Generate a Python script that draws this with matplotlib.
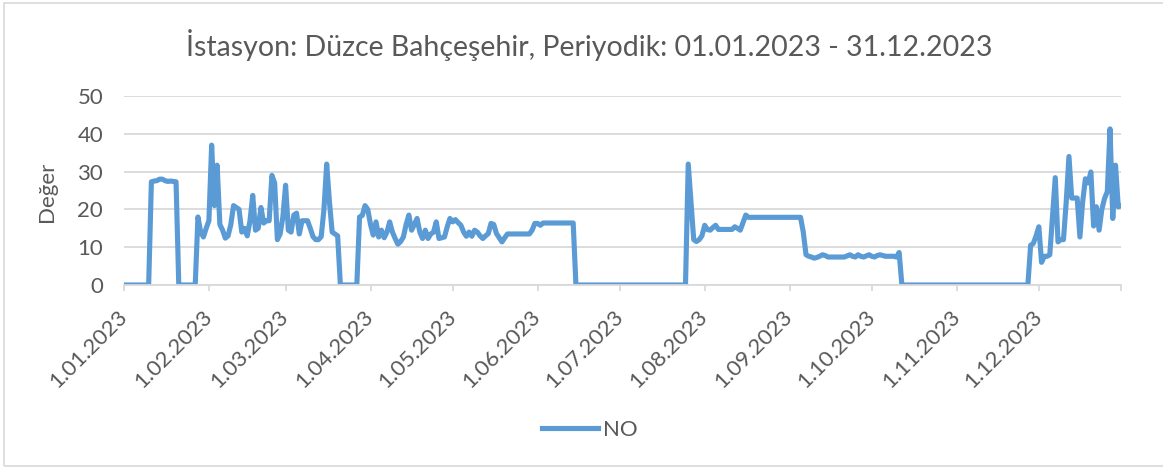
# Import necessary libraries
import numpy as np
import pandas as pd
import matplotlib
matplotlib.use("Agg")
import matplotlib.pyplot as plt
from matplotlib.patches import Rectangle

# Daily NO values, one list per month
jan = [0] * 10 + [27.3, 27.5, 27.6, 28, 28, 27.6, 27.4, 27.5, 27.4, 27.3] + [0] * 7 + [18, 14, 12.7, 15]
feb = [17, 37, 21, 31.7, 16, 14.5, 12.4, 13, 16, 21, 20.5, 20, 14, 15, 13,
       17, 23.7, 14.5, 15, 20.5, 16.4, 17, 17, 29, 27, 12, 13.5, 18]
mar = [26.4, 14.5, 14, 18.5, 19, 13.5, 17, 17, 17, 15, 12.8, 12, 12, 12.8, 20,
       32, 22, 14, 13.5, 13] + [0] * 7 + [18, 18.4, 21, 20]
apr = [16, 13.2, 16.7, 12.7, 14.5, 12.5, 14, 16.7, 14, 12.3, 10.8, 11.5, 12.7, 16, 18.5,
       14.5, 16, 17.6, 14, 12.3, 14.5, 12.3, 13.5, 14, 16.7, 12.3, 12.5, 12.7, 15.4, 17.6]
may = [16.7, 17.3, 16.5, 15.8, 14, 12.9, 14, 12.9, 14.5, 14, 13, 12.3, 13, 13.6, 16.3,
       16, 13.6, 12.5, 11.4, 12.5, 13.5] + [13.5] * 8 + [14.5, 16.3]
jun = [16.3, 15.8, 16.4] + [16.4] * 11 + [0] * 16
jul = [0] * 25 + [32, 22, 12, 11.5, 12, 13]
aug = [15.8, 14.7, 14.5, 15.2, 15.8, 14.7] + [14.7] * 5 + [15.4, 15, 14.5, 16.5, 18.5, 17.9] + [17.9] * 14
sep = [17.9] * 5 + [14, 8, 7.6, 7.4, 7.1, 7.3, 7.6, 8, 7.8, 7.4, 7.4] + [7.4] * 5 + \
      [7.7, 8, 7.6, 7.4, 8, 7.6, 7.4, 7.7, 8]
oct_ = [7.6, 7.4, 7.8, 8, 7.8, 7.6, 7.6, 7.6, 7.6, 7.4, 8.6] + [0] * 20
nov = [0] * 27 + [10.5, 11, 13]
dec = [15.4, 6, 7.6, 7.6, 8, 18, 28.4, 11.4, 12, 12, 22, 34, 23, 23, 23,
       12.7, 22, 28.1, 27, 29.9, 15.6, 20.7, 14.5, 20, 22.9, 24.7, 41.3, 17.6, 31.7, 20.7, 21]

months = [jan, feb, mar, apr, may, jun, jul, aug, sep, oct_, nov, dec]
tick_labels = ["1.01.2023", "1.02.2023", "1.03.2023", "1.04.2023", "1.05.2023", "1.06.2023",
               "1.07.2023", "1.08.2023", "1.09.2023", "1.10.2023", "1.11.2023", "1.12.2023"]
y_ticks = [0, 10, 20, 30, 40, 50]

TEXT = "#595959"
BLUE = "#5B9BD5"
GRID = "#D9D9D9"
W, H = 1163, 469


def main():
    plt.rcParams['font.family'] = ['Lato', 'DejaVu Sans']

    values = np.concatenate([np.array(m, dtype=float) for m in months])
    dates = pd.date_range("2023-01-01", "2023-12-31", freq="D")
    x = np.arange(len(dates))

    fig = plt.figure(figsize=(W / 100, H / 100), dpi=100)
    # outer frame of the chart area (right side is cut off in the original)
    fig.patches.append(Rectangle((3.5 / W, 3.5 / H), 1.2, 1 - 7 / H,
                                 transform=fig.transFigure, fill=False,
                                 edgecolor=GRID, linewidth=1.2))

    ax = fig.add_axes([124 / W, 1 - 285 / H, 997 / W, 189 / H])
    ax.plot(x, values, color=BLUE, linewidth=3.7, solid_joinstyle='round', label='NO')

    ax.set_xlim(0, len(dates) - 1)
    ax.set_ylim(0, 50)
    ax.set_yticks(y_ticks)
    ax.grid(axis='y', color=GRID, linewidth=1.3)
    ax.set_axisbelow(True)
    for side in ['top', 'right', 'left']:
        ax.spines[side].set_visible(False)
    ax.spines['bottom'].set_color(GRID)
    ax.spines['bottom'].set_linewidth(1.3)

    # month-start ticks, plus an unlabelled tick at 31.12
    starts = [i for i, d in enumerate(dates) if d.day == 1]
    ax.set_xticks(starts + [len(dates) - 1])
    ax.set_xticklabels(tick_labels + [''], rotation=45, ha='right', va='center',
                       rotation_mode='anchor')
    ax.tick_params(axis='x', length=4.5, width=1.3, color=GRID, labelcolor=TEXT,
                   labelsize=16, pad=16)
    ax.tick_params(axis='y', length=0, labelcolor=TEXT, labelsize=16, pad=15)

    fig.text(47 / W, 1 - 192 / H, 'Değer', rotation=90, ha='center', va='center',
             color=TEXT, fontsize=16)
    fig.text(589 / W, 1 - 45 / H, 'İstasyon: Düzce Bahçeşehir, Periyodik: 01.01.2023 - 31.12.2023',
             ha='center', va='center', color=TEXT, fontsize=20.5)

    ax.legend(loc='center', bbox_to_anchor=(590 / W, 1 - 430 / H), bbox_transform=fig.transFigure,
              frameon=False, fontsize=16, labelcolor=TEXT, handlelength=2.5, handletextpad=0.25)

    fig.savefig("out.png", dpi=100)


if __name__ == "__main__":
    main()
